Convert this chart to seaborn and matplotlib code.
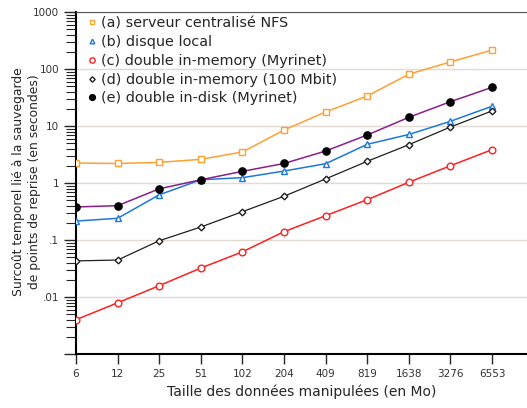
import matplotlib
matplotlib.use("Agg")
import matplotlib.pyplot as plt
import seaborn as sns
import pandas as pd
import numpy as np
from matplotlib.ticker import FixedLocator, FixedFormatter, LogLocator, NullFormatter

sizes = ["6", "12", "25", "51", "102", "204", "409", "819", "1638", "3276", "6553"]
nfs = [2.24, 2.2, 2.3, 2.6, 3.5, 8.5, 17.6, 33.6, 81, 133, 215]
local_disk = [0.215, 0.24, 0.62, 1.14, 1.24, 1.62, 2.18, 4.77, 7.1, 12.1, 22.2]
mem_myrinet = [0.0040, 0.0079, 0.0158, 0.0322, 0.062, 0.14, 0.267, 0.51, 1.03, 2.01, 3.84]
mem_100mbit = [0.043, 0.0445, 0.097, 0.169, 0.314, 0.585, 1.18, 2.4, 4.7, 9.6, 18.4]
disk_myrinet = [0.38, 0.40, 0.79, 1.14, 1.6, 2.2, 3.64, 6.95, 14.2, 26.7, 47.7]

labels = ["(a) serveur centralisé NFS", "(b) disque local",
          "(c) double in-memory (Myrinet)", "(d) double in-memory (100 Mbit)",
          "(e) double in-disk (Myrinet)"]
series = [nfs, local_disk, mem_myrinet, mem_100mbit, disk_myrinet]

sns.set_style("ticks")
plt.rcParams['font.family'] = ['DejaVu Sans']

fig = plt.figure(figsize=(5.27, 4.08), dpi=100)
ax = fig.add_axes([76/527, 1-354/408, 1-76/527, (354-12)/408])

styles = [
    dict(color="#FFA033", marker="s", mfc="white", mec="#FFA033", ms=4.2, lw=1.1),
    dict(color="#1E78D8", marker="^", mfc="white", mec="#1E78D8", ms=4.2, lw=1.1),
    dict(color="#FF2020", marker="o", mfc="white", mec="#FF2020", ms=4.8, lw=1.1),
    dict(color="#202020", marker="D", mfc="white", mec="#202020", ms=3.4, lw=0.9),
    dict(color="#8B1E8B", marker="o", mfc="black", mec="black", ms=5.2, lw=1.1),
]

idx = np.arange(len(sizes))
handles = []
for lab, vals, st in zip(labels, series, styles):
    df = pd.DataFrame({"x": idx, "y": vals})
    sns.lineplot(data=df, x="x", y="y", ax=ax, color=st["color"], lw=st["lw"],
                 marker=st["marker"], markerfacecolor=st["mfc"],
                 markeredgecolor=st["mec"], markersize=st["ms"],
                 markeredgewidth=1.0, legend=False, zorder=3)
    h, = ax.plot([], [], linestyle="none", marker=st["marker"], markerfacecolor=st["mfc"],
                 markeredgecolor=st["mec"], markersize=st["ms"] * 0.8, markeredgewidth=1.0)
    handles.append(h)

ax.set_yscale("log")
ax.set_ylim(0.001, 1000)
ax.set_xlim(0, 10.84)

ax.yaxis.set_major_locator(FixedLocator([0.001, 0.01, 0.1, 1, 10, 100, 1000]))
ax.yaxis.set_major_formatter(FixedFormatter(["", ".01", ".1", "1", "10", "100", "1000"]))
ax.yaxis.set_minor_locator(LogLocator(base=10, subs=np.arange(2, 10)))
ax.yaxis.set_minor_formatter(NullFormatter())

ax.set_xticks(idx)
ax.set_xticklabels(sizes)

ax.grid(axis="y", which="major", color="#E2DAD3", lw=1.0, zorder=0)
ax.set_axisbelow(True)

ax.tick_params(axis="y", which="major", length=9, width=1.0, labelsize=7.5,
               labelcolor="#333333", direction="out", pad=3)
ax.tick_params(axis="y", which="minor", length=7, width=0.8, direction="out")
ax.tick_params(axis="x", which="major", length=7, width=1.0, labelsize=7.5,
               labelcolor="#333333", direction="out", pad=4)

for s in ["left", "bottom"]:
    ax.spines[s].set_linewidth(1.5)
    ax.spines[s].set_color("black")
ax.spines["top"].set_visible(True)
ax.spines["top"].set_linewidth(0.8)
ax.spines["top"].set_color("#555555")
ax.spines["right"].set_visible(False)

ax.set_xlabel("Taille des données manipulées (en Mo)", fontsize=10, labelpad=4)
ax.set_ylabel("Surcoût temporel lié à la sauvegarde\nde points de reprise (en secondes)",
              fontsize=8.9, linespacing=1.25)
ax.yaxis.set_label_coords(-0.078, 0.505)

leg = ax.legend(handles, labels, loc="upper left", frameon=False, fontsize=10.4,
                handlelength=0.5, handletextpad=0.35, labelspacing=0.33,
                borderaxespad=0.0, borderpad=0.3, bbox_to_anchor=(0.018, 1.0))

fig.savefig("out.png", dpi=100)
